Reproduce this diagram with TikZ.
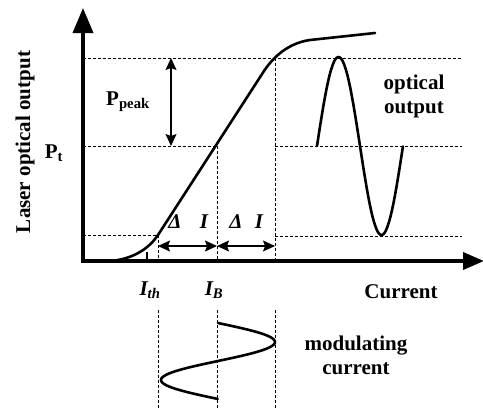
\documentclass[tikz,border=0pt]{standalone}
\usepackage{fontspec}
\setmainfont{Liberation Serif}
\usetikzlibrary{arrows.meta}
\begin{document}
\begin{tikzpicture}[x=1pt,y=-1pt,
  axisline/.style={line width=3.6pt},
  guide/.style={line width=0.8pt, dash pattern=on 3pt off 2pt},
  curve/.style={line width=2.6pt, line join=round, line cap=round},
  dim/.style={line width=1.2pt, {Stealth[length=12pt,width=11pt,inset=2pt]}-{Stealth[length=12pt,width=11pt,inset=2pt]}},
  lbl/.style={font=\fontsize{21}{24}\selectfont\bfseries, inner sep=0pt, align=center},
  ilbl/.style={font=\fontsize{21}{24}\selectfont\bfseries\itshape, inner sep=0pt}]
\useasboundingbox (0,0) rectangle (483,410);
% key coordinates
\coordinate (Ytop) at (83,8);
\coordinate (Xend) at (484,261);
\coordinate (L58) at (83,58);
\coordinate (R58) at (462,58);
\coordinate (L146) at (83,146);
\coordinate (B146) at (217,146);
\coordinate (S146) at (275,146);
\coordinate (R146) at (462,146);
\coordinate (L235) at (83,235);
\coordinate (T235) at (158,235);
\coordinate (S236) at (275,236);
\coordinate (R236) at (462,236);
\coordinate (Tax) at (158,261);
\coordinate (Bax) at (217,261);
\coordinate (Sax) at (275,261);
\coordinate (S58) at (275,58);
\coordinate (Tlo) at (158,310);
\coordinate (Tbot) at (158,410);
\coordinate (Blo) at (217,310);
\coordinate (Bbot) at (217,410);
\coordinate (Slo) at (275,310);
\coordinate (Sbot) at (275,410);
\coordinate (A1) at (158,246);
\coordinate (A2) at (217,246);
\coordinate (A3) at (275,246);
\coordinate (Pk1) at (171,58);
\coordinate (Pk2) at (171,146);
\coordinate (tk1) at (147,252);
\coordinate (tk2) at (147,261);
% dashed guides
\draw[guide] (L58) -- (R58);
\draw[guide] (L146) -- (B146);
\draw[guide] (S146) -- (R146);
\draw[guide] (L235) -- (T235);
\draw[guide] (S236) -- (R236);
\draw[guide] (T235) -- (Tax);
\draw[guide] (B146) -- (Bax);
\draw[guide] (S58) -- (Sax);
\draw[guide] (Tlo) -- (Tbot);
\draw[guide] (Blo) -- (Bbot);
\draw[guide] (Slo) -- (Sbot);
% axes
\draw[axisline, -{Triangle[length=25pt,width=20pt]}] (83,263) -- (Ytop);
\draw[axisline, -{Triangle[length=21pt,width=17pt]}] (81,261) -- (Xend);
\draw[line width=1.2pt] (tk1) -- (tk2);
% characteristic curve
\coordinate (c0) at (110,261);
\coordinate (c2) at (264,71);
\coordinate (c3) at (310,40);
\coordinate (c4) at (375,33);
\draw[curve] (c0) .. controls (135,259) and (150,247) .. (T235) -- (c2)
  .. controls (274,56) and (289,43) .. (c3) -- (c4);
% dimension arrows
\draw[dim] (A1) -- (A2);
\draw[dim] (A2) -- (A3);
\draw[dim] (Pk1) -- (Pk2);
% optical output sine
\draw[curve] plot[domain=0:1, samples=80, smooth] ({317+86*\x},{146-89*sin(360*\x)});
% modulating current sine
\draw[curve] plot[domain=0:1, samples=80, smooth] ({218+57*sin(360*\x)},{323+76*\x});
% labels
\node[lbl, rotate=90] (ylab) at (25,142) {Laser optical output};
\node[lbl] (pt) at (54,153) {P\textsubscript{t}};
\node[lbl] (ppeak) at (128,102) {P\textsubscript{peak}};
\node[ilbl] (d1) at (175,222) {Δ};
\node[ilbl] (i1) at (204,222) {I};
\node[ilbl] (d2) at (236,222) {Δ};
\node[ilbl] (i2) at (259,222) {I};
\node[ilbl] (ith) at (150,290) {I\textsubscript{th}};
\node[ilbl] (ib) at (214,290) {I\textsubscript{B}};
\node[lbl] (cur) at (401,292) {Current};
\node[lbl] (oo) at (414,96) {optical\\output};
\node[lbl] (mc) at (356,355) {modulating\\current};
\end{tikzpicture}
\end{document}
